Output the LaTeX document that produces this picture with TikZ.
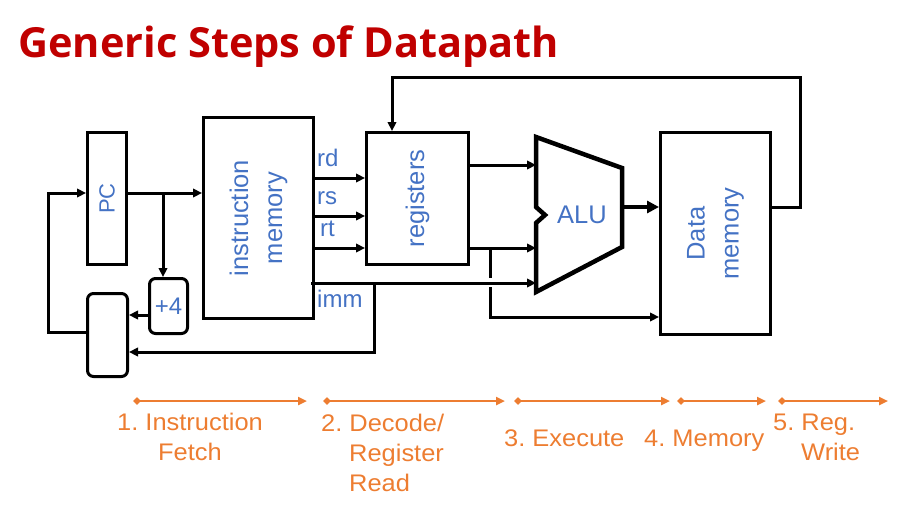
\documentclass[tikz,border=0pt]{standalone}
\usepackage{fontspec}
\setmainfont{Liberation Sans}
\newfontfamily\titlefont{Open Sans}
\newfontfamily\orfont[FakeStretch=1.06]{Liberation Sans}
\usetikzlibrary{arrows.meta}
\definecolor{tred}{HTML}{C00000}
\definecolor{bl}{HTML}{4472C4}
\definecolor{org}{HTML}{ED7D31}
\frenchspacing
\begin{document}
\begin{tikzpicture}[x=1pt,y=-1pt,
  box/.style={draw, line width=3pt, inner sep=0pt, anchor=north west},
  rbox/.style={box, rounded corners=6pt},
  wire/.style={line width=3pt},
  arr/.style={wire, -{Triangle[length=9pt,width=8.5pt]}},
  btxt/.style={text=bl, inner sep=0pt, font=\fontsize{25.5}{34}\selectfont},
  lbl/.style={text=bl, inner sep=0pt, anchor=west, font=\fontsize{24}{28}\selectfont},
  otxt/.style={text=org, inner sep=0pt, font=\orfont\frenchspacing\fontsize{24}{30}\selectfont},
  stage/.style={draw=org, line width=2.8pt, {Diamond[length=8pt,width=7.5pt]}-{Triangle[length=9pt,width=8pt]}}
]
\useasboundingbox (0,0) rectangle (899,511);

% title
\node[anchor=base west, inner sep=0pt, text=tred, font=\titlefont\bfseries\fontsize{41.5}{46}\selectfont] (title) at (18,57) {Generic Steps of Datapath};

% boxes
\node[box, minimum width=39pt, minimum height=132pt,
  label={[btxt, rotate=90, font=\fontsize{22}{26}\selectfont]center:PC}] (pc) at (86,131) {};
\node[box, minimum width=110pt, minimum height=201pt,
  label={[btxt, rotate=90, align=center]center:{instruction\\memory}}] (imem) at (202,116) {};
\node[box, minimum width=102pt, minimum height=132pt,
  label={[btxt, rotate=90]center:registers}] (reg) at (365,131) {};
\node[box, minimum width=110pt, minimum height=202pt,
  label={[btxt, rotate=90, align=center]center:{Data\\memory}}] (dmem) at (659,131) {};
\node[rbox, minimum width=38pt, minimum height=55pt,
  label={[btxt, font=\fontsize{24}{28}\selectfont]center:+4}] (p4) at (148,277) {};
\node[rbox, minimum width=40pt, minimum height=83pt] (mux) at (86,292) {};

% ALU
\coordinate (aTL) at (536,137);
\coordinate (aTR) at (622,168);
\coordinate (aBR) at (622,247);
\coordinate (aBL) at (536,292);
\coordinate (aN1) at (536,223);
\coordinate (aN2) at (545,215);
\coordinate (aN3) at (536,207);
\draw[line width=4.5pt] (aTL) -- (aTR) -- (aBR) -- (aBL) -- (aN1) -- (aN2) -- (aN3) -- cycle;
\node[btxt] (alu) at (582,215) {ALU};

% PC and next-PC logic
\coordinate (j1) at (163,193);
\coordinate (fb) at (48,193);
\draw[arr] (pc.east |- 0,193) -- (imem.west |- 0,193);
\draw[arr] (j1) -- (j1 |- p4.north);
\draw[arr] (p4.west |- 0,315) -- (mux.east |- 0,315);
\draw[arr] (mux.west |- 0,332) -| (fb) -- (pc.west |- 0,193);

% instruction fields
\draw[arr] (imem.east |- 0,178) -- (reg.west |- 0,178);
\draw[arr] (imem.east |- 0,216) -- (reg.west |- 0,216);
\draw[arr] (imem.east |- 0,248) -- (reg.west |- 0,248);
\draw[arr] ([xshift=-4pt]imem.east |- 0,283) -- (aTL |- 0,283);
\coordinate (jimm) at (374,283);
\draw[arr] (jimm) |- (mux.east |- 0,352);

\node[lbl] (rd) at (317,158) {rd};
\node[lbl] (rs) at (317,198) {rs};
\node[lbl] (rt) at (320,229) {rt};
\node[lbl] (imm) at (317,299) {imm};

% register outputs
\draw[arr] (reg.east |- 0,165) -- (aTL |- 0,165);
\draw[arr] (reg.east |- 0,248) -- (aTL |- 0,248);
\coordinate (j2) at (490,248);
\coordinate (j2a) at (490,278);
\coordinate (j2b) at (490,287);
\draw[wire] (j2) -- (j2a);
\draw[arr] (j2b) |- (dmem.west |- 0,317);

% ALU output
\draw[line width=4.5pt, -{Triangle[length=12pt,width=12pt]}] (aTR |- 0,207) -- (dmem.west |- 0,207);

% write back
\coordinate (wb) at (800,77);
\draw[arr] (dmem.east |- 0,207) -| (wb) -| (reg.north -| 392,0);

% stages
\coordinate (a1s) at (133,401); \coordinate (a1e) at (307,401);
\coordinate (a2s) at (323,401); \coordinate (a2e) at (505,401);
\coordinate (a3s) at (514,401); \coordinate (a3e) at (670,401);
\coordinate (a4s) at (677,401); \coordinate (a4e) at (766,401);
\coordinate (a5s) at (778,401); \coordinate (a5e) at (888,401);
\draw[stage] (a1s) -- (a1e);
\draw[stage] (a2s) -- (a2e);
\draw[stage] (a3s) -- (a3e);
\draw[stage] (a4s) -- (a4e);
\draw[stage] (a5s) -- (a5e);

\node[otxt, align=center, anchor=north] (s1) at (190,413) {1. Instruction\\Fetch};
\node[otxt, align=left, anchor=north west] (s2) at (321,414) {2. Decode/\\\hspace*{28pt}Register\\\hspace*{28pt}Read};
\node[otxt, anchor=base west] (s3) at (504,446) {3. Execute};
\node[otxt, anchor=base west] (s4) at (644,446) {4. Memory};
\node[otxt, align=left, anchor=north west] (s5) at (773,414) {5. Reg.\\\hspace*{28pt}Write};
\end{tikzpicture}
\end{document}
